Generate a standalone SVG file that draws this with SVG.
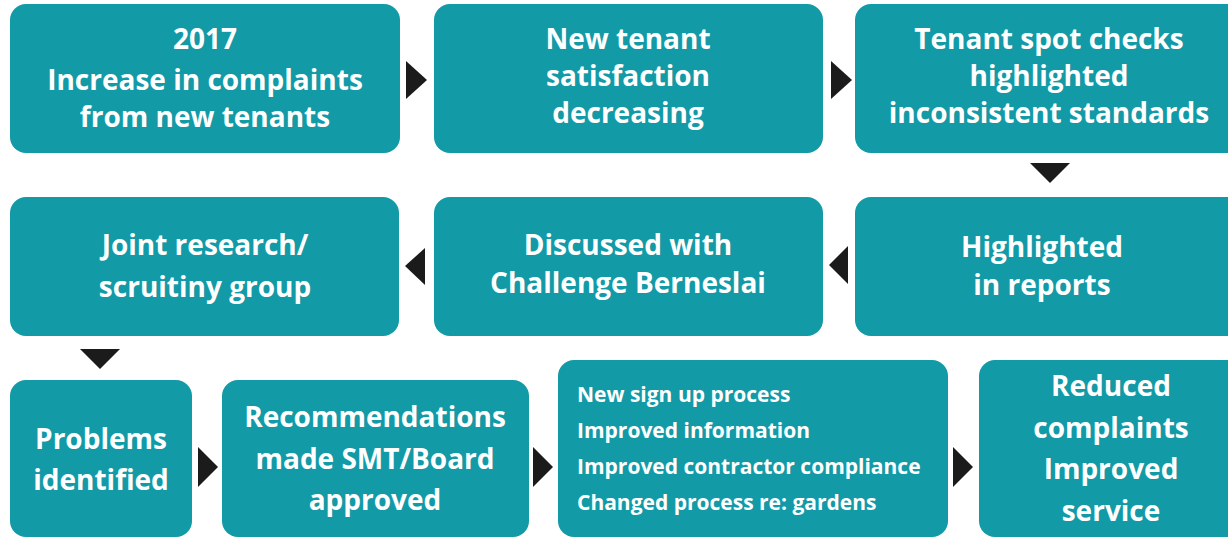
<svg xmlns="http://www.w3.org/2000/svg" width="1228" height="539" viewBox="0 0 1228 539">
  <style>
    .box { fill: #129aa7; }
    .t { font-family: "Open Sans", Lato, "Liberation Sans", sans-serif; font-weight: bold; fill: #ffffff; font-size: 28px; text-anchor: middle; }
    .s { font-family: "Open Sans", Lato, "Liberation Sans", sans-serif; font-weight: bold; fill: #ffffff; font-size: 21px; }
    .arr { fill: #1b1b1b; }
  </style>
  <rect width="1228" height="539" fill="#ffffff"/>

  <g id="n1">
    <rect class="box" x="10" y="4" width="390" height="149" rx="16"/>
    <text class="t" x="205" y="49">2017</text>
    <text class="t" x="205" y="90">Increase in complaints</text>
    <text class="t" x="205" y="127">from new tenants</text>
  </g>
  <g id="n2">
    <rect class="box" x="434" y="4" width="389" height="149" rx="16"/>
    <text class="t" x="628" y="49">New tenant</text>
    <text class="t" x="628" y="86">satisfaction</text>
    <text class="t" x="628" y="123">decreasing</text>
  </g>
  <g id="n3">
    <rect class="box" x="855" y="4" width="390" height="149" rx="16"/>
    <text class="t" x="1049" y="49">Tenant spot checks</text>
    <text class="t" x="1049" y="86">highlighted</text>
    <text class="t" x="1049" y="123">inconsistent standards</text>
  </g>
  <g id="n4">
    <rect class="box" x="10" y="197" width="389" height="139" rx="16"/>
    <text class="t" x="205" y="255">Joint research/</text>
    <text class="t" x="205" y="297">scruitiny group</text>
  </g>
  <g id="n5">
    <rect class="box" x="434" y="197" width="389" height="139" rx="16"/>
    <text class="t" x="628" y="255">Discussed with</text>
    <text class="t" x="628" y="293">Challenge Berneslai</text>
  </g>
  <g id="n6">
    <rect class="box" x="855" y="197" width="390" height="139" rx="16"/>
    <text class="t" x="1042" y="257">Highlighted</text>
    <text class="t" x="1042" y="295">in reports</text>
  </g>
  <g id="n7">
    <rect class="box" x="10" y="380" width="182" height="157" rx="16"/>
    <text class="t" x="101" y="449">Problems</text>
    <text class="t" x="101" y="490">identified</text>
  </g>
  <g id="n8">
    <rect class="box" x="222" y="380" width="307" height="157" rx="16"/>
    <text class="t" x="375" y="427">Recommendations</text>
    <text class="t" x="375" y="469">made SMT/Board</text>
    <text class="t" x="375" y="510">approved</text>
  </g>
  <g id="n9">
    <rect class="box" x="558" y="360" width="390" height="177" rx="16"/>
    <text class="s" x="577" y="402">New sign up process</text>
    <text class="s" x="577" y="438">Improved information</text>
    <text class="s" x="577" y="474">Improved contractor compliance</text>
    <text class="s" x="577" y="510">Changed process re: gardens</text>
  </g>
  <g id="n10">
    <rect class="box" x="979" y="360" width="270" height="177" rx="16"/>
    <text class="t" x="1111" y="396">Reduced</text>
    <text class="t" x="1111" y="438">complaints</text>
    <text class="t" x="1111" y="479">Improved</text>
    <text class="t" x="1111" y="521">service</text>
  </g>

  <g id="connectors">
    <polygon class="arr" points="406,61 427,80 406,99"/>
    <polygon class="arr" points="831,61 852,80 831,99"/>
    <polygon class="arr" points="1030,163 1070,163 1050,183"/>
    <polygon class="arr" points="848,246 829,265 848,284"/>
    <polygon class="arr" points="425,248 405,266 425,285"/>
    <polygon class="arr" points="80,349 120,349 100,369"/>
    <polygon class="arr" points="198,447 218,467 198,487"/>
    <polygon class="arr" points="533,447 553,467 533,487"/>
    <polygon class="arr" points="953,447 973,467 953,487"/>
  </g>
</svg>
